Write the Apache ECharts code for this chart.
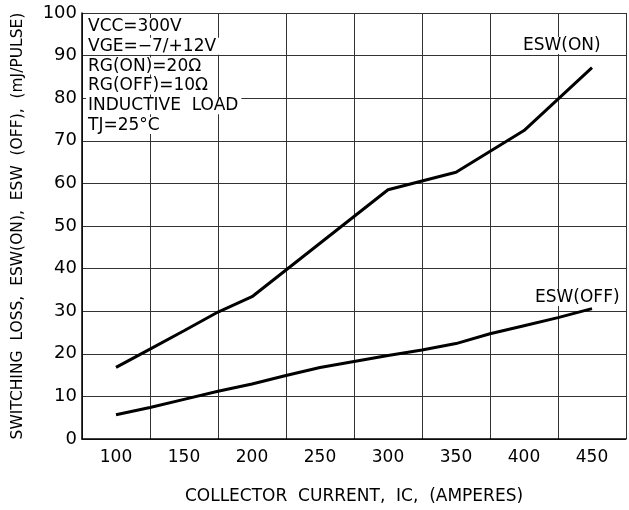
<!DOCTYPE html>
<html>
<head>
<meta charset="utf-8">
<script src="https://cdn.jsdelivr.net/npm/echarts@6/dist/echarts.min.js"></script>
<style>
  html, body { margin: 0; padding: 0; background: #fff; }
  #chart { width: 629px; height: 510px; }
</style>
</head>
<body>
<div id="chart"></div>
<script>
// collector current (A) and switching loss (mJ/pulse)
const currentOn = [100, 125, 150, 175, 200, 300, 350, 400, 450];
const esw_on = [16.8, 21.1, 25.4, 29.8, 33.4, 58.5, 62.6, 72.4, 87.2];

const currentOff = [100, 125, 150, 175, 200, 225, 250, 275, 300, 325, 350, 375, 400, 425, 450];
const esw_off = [5.7, 7.4, 9.3, 11.2, 12.9, 14.9, 16.8, 18.2, 19.6, 20.9, 22.4, 24.7, 26.6, 28.5, 30.6];

const conditions = ["VCC=300V", "VGE=−7/+12V", "RG(ON)=20Ω", "RG(OFF)=10Ω", "INDUCTIVE  LOAD", "TJ=25°C"];

const FONT = "DejaVu Sans";

const chart = echarts.init(document.getElementById("chart"));

const toPairs = (xs, ys) => xs.map((x, i) => [x, ys[i]]);

chart.setOption({
  animation: false,
  grid: { left: 82, right: 3, top: 13, bottom: 62 },
  xAxis: [
    {
      type: "value",
      min: 75,
      max: 475,
      interval: 50,
      axisLine: { show: true, lineStyle: { color: "#000", width: 1.5 } },
      axisTick: { show: false },
      axisLabel: { show: false },
      splitLine: { show: true, lineStyle: { color: "#333", width: 1 } },
      name: "COLLECTOR  CURRENT,  IC,  (AMPERES)",
      nameLocation: "middle",
      nameGap: 49,
      nameTextStyle: { color: "#000", fontFamily: FONT, fontSize: 17 },
    },
    {
      type: "value",
      position: "bottom",
      min: 75,
      max: 475,
      interval: 25,
      axisLine: { show: false },
      axisTick: { show: false },
      splitLine: { show: false },
      axisLabel: {
        color: "#000",
        fontFamily: FONT,
        fontSize: 17,
        margin: 10,
        formatter: (v) => (v >= 100 && v <= 450 && v % 50 === 0 ? String(v) : ""),
      },
    },
  ],
  yAxis: {
    type: "value",
    min: 0,
    max: 100,
    interval: 10,
    axisLine: { show: true, lineStyle: { color: "#000", width: 1.5 } },
    axisTick: { show: false },
    axisLabel: { color: "#000", fontFamily: FONT, fontSize: 18, margin: 5 },
    splitLine: { show: true, lineStyle: { color: "#333", width: 1 } },
    name: "SWITCHING  LOSS,  ESW(ON),  ESW  (OFF),  (mJ/PULSE)",
    nameLocation: "middle",
    nameGap: 56,
    nameTextStyle: { color: "#000", fontFamily: FONT, fontSize: 15.5 },
  },
  series: [
    {
      name: "ESW(ON)",
      type: "line",
      data: toPairs(currentOn, esw_on),
      showSymbol: false,
      lineStyle: { color: "#000", width: 3 },
    },
    {
      name: "ESW(OFF)",
      type: "line",
      data: toPairs(currentOff, esw_off),
      showSymbol: false,
      lineStyle: { color: "#000", width: 3 },
    },
  ],
  graphic: [
    ...conditions.map((t, i) => ({
      type: "text",
      left: 86,
      top: 18 + i * 19.8,
      z: 100,
      style: {
        text: t,
        fill: "#000",
        font: "17px " + FONT,
        backgroundColor: "#fff",
        padding: [0, 3, 0, 2],
      },
    })),
    {
      type: "text",
      left: 523,
      top: 37,
      z: 100,
      style: { text: "ESW(ON)", fill: "#000", font: "17px " + FONT, backgroundColor: "#fff" },
    },
    {
      type: "text",
      left: 535,
      top: 289,
      z: 100,
      style: { text: "ESW(OFF)", fill: "#000", font: "17px " + FONT, backgroundColor: "#fff" },
    },
  ],
});
</script>
</body>
</html>
